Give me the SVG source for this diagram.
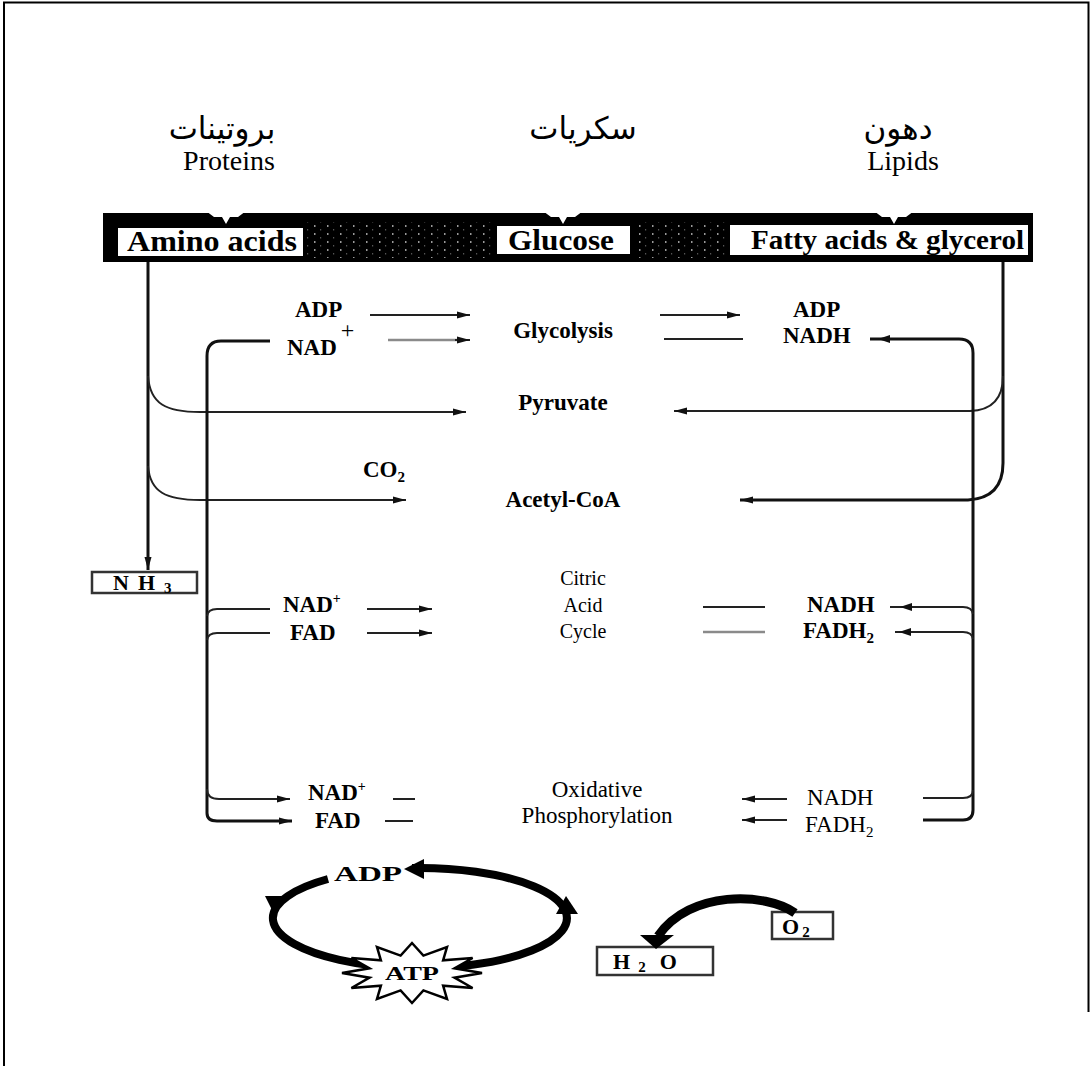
<svg xmlns="http://www.w3.org/2000/svg" width="1091" height="1066" viewBox="0 0 1091 1066">
<defs>
<style>
.b{font-family:"Liberation Serif","Times New Roman",serif;font-weight:bold;fill:#000}
.r{font-family:"Liberation Serif","Times New Roman",serif;font-weight:normal;fill:#000}
.ar{font-family:"DejaVu Sans",sans-serif;font-weight:normal;fill:#000}
.ln{fill:none;stroke:#222;stroke-width:2}
.vt{fill:none;stroke:#111;stroke-width:3}
.gr{fill:none;stroke:#8a8a8a;stroke-width:2.5}
.box{fill:#fff;stroke:#333;stroke-width:2.5}
.lbl{fill:#fff}
</style>
<marker id="ah" markerUnits="userSpaceOnUse" markerWidth="14" markerHeight="10" refX="13" refY="5" orient="auto">
<path d="M0,1.5 L13,5 L0,8.5 z" fill="#111"/>
</marker>
<path id="ahL" d="M0,0 L12,-4 L12,4 z" fill="#111"/>
<path id="ahR" d="M0,0 L-12,-4 L-12,4 z" fill="#111"/>
<pattern id="speck" width="13" height="8" patternUnits="userSpaceOnUse">
<rect width="13" height="8" fill="#000"/>
<rect x="2" y="1" width="1.5" height="2" fill="#999"/>
<rect x="8" y="5" width="1.2" height="1.5" fill="#555"/>
</pattern>
</defs>

<rect width="1091" height="1066" fill="#fff"/>
<path d="M4,1066 V2.5 H1088.5 V1012" fill="none" stroke="#000" stroke-width="2"/>

<g id="title-proteins">
<text class="ar" x="222" y="139" font-size="31" text-anchor="middle">بروتينات</text>
<text class="r" x="229" y="170" font-size="28" text-anchor="middle">Proteins</text>
</g>
<g id="title-sugars">
<text class="ar" x="583" y="139" font-size="31" text-anchor="middle">سكريات</text>
</g>
<g id="title-lipids">
<text class="ar" x="898" y="139" font-size="31" text-anchor="middle">دهون</text>
<text class="r" x="903" y="170" font-size="28" text-anchor="middle">Lipids</text>
</g>

<g id="band">
<rect x="103" y="213" width="930" height="49" fill="#000"/>
<rect x="306" y="222" width="186" height="36" fill="url(#speck)"/>
<rect x="634" y="222" width="92" height="36" fill="url(#speck)"/>
<polygon points="206,211 246,211 238,217 230,217 226,224 222,217 214,217" fill="#fff"/>
<polygon points="543,211 583,211 575,217 567,217 563,224 559,217 551,217" fill="#fff"/>
<polygon points="874,211 914,211 906,217 898,217 894,224 890,217 882,217" fill="#fff"/>
</g>
<g id="amino-acids">
<rect class="lbl" x="118" y="228" width="185" height="28"/>
<text class="b" x="127" y="251" font-size="30" textLength="170" lengthAdjust="spacingAndGlyphs">Amino acids</text>
</g>
<g id="glucose">
<rect class="lbl" x="497" y="226" width="133" height="28"/>
<text class="b" x="508" y="250" font-size="30" textLength="106" lengthAdjust="spacingAndGlyphs">Glucose</text>
</g>
<g id="fatty-acids">
<rect class="lbl" x="730" y="225" width="298" height="30"/>
<text class="b" x="751" y="249" font-size="27" textLength="273" lengthAdjust="spacingAndGlyphs">Fatty acids &amp; glycerol</text>
</g>

<g id="connectors">
<path class="vt" d="M148,262 V570" marker-end="url(#ah)"/>
<path class="ln" d="M148,376 C150,404 166,412 200,412 H466" marker-end="url(#ah)"/>
<path class="ln" d="M148,466 C150,492 166,500 200,500 H406" marker-end="url(#ah)"/>
<path class="vt" d="M270,341 H221 Q207,341 207,356 V813 Q207,821 217,821 H292" marker-end="url(#ah)"/>
<path class="ln" d="M207,616 Q208,609 217,609 H270"/>
<path class="ln" d="M207,640 Q208,633 217,633 H270"/>
<path class="ln" d="M207,789 Q207,799 219,799 H290" marker-end="url(#ah)"/>
<path class="vt" d="M1003,262 V463 Q1003,498 968,500 H740" marker-end="url(#ah)"/>
<path class="ln" d="M1003,376 Q1003,410 970,411 H674" marker-end="url(#ah)"/>
<path class="vt" d="M870,339 H959 Q973,339 973,353 V810 Q973,820 963,820 H923"/>
<use href="#ahL" x="878" y="339"/>
<path class="ln" d="M973,614 Q972,607 963,607 H890"/>
<use href="#ahL" x="900" y="607"/>
<path class="ln" d="M973,639 Q972,632 963,632 H895"/>
<use href="#ahL" x="899" y="632"/>
<path class="ln" d="M973,790 Q973,798 963,798 H923"/>
<path class="ln" d="M370,315 H470" marker-end="url(#ah)"/>
<path class="gr" d="M388,340 H458"/>
<path class="ln" d="M455,340 H470" marker-end="url(#ah)"/>
<path class="ln" d="M660,315 H740" marker-end="url(#ah)"/>
<path class="ln" d="M664,339 H743"/>
<path class="ln" d="M367,609 H432" marker-end="url(#ah)"/>
<path class="ln" d="M367,633 H432" marker-end="url(#ah)"/>
<path class="ln" d="M703,607 H765"/>
<path class="gr" d="M703,632 H765"/>
<path class="ln" d="M393,799 H415"/>
<path class="ln" d="M385,821 H413"/>
<path class="ln" d="M787,799 H742" marker-end="url(#ah)"/>
<path class="ln" d="M787,820 H742" marker-end="url(#ah)"/>
</g>

<g id="nh3">
<rect class="box" x="92" y="572" width="105" height="21"/>
<text class="b" x="113" y="590" font-size="22" letter-spacing="9">NH<tspan font-size="15" dy="3">3</tspan></text>
</g>

<g id="glycolysis">
<text class="b" x="295" y="317" font-size="23">ADP</text>
<text class="b" x="287" y="355" font-size="23">NAD<tspan class="r" font-size="24" dx="4" dy="-17">+</tspan></text>
<text class="b" x="563" y="338" font-size="23" text-anchor="middle">Glycolysis</text>
<text class="b" x="793" y="317" font-size="23">ADP</text>
<text class="b" x="783" y="343" font-size="23">NADH</text>
</g>
<g id="pyruvate">
<text class="b" x="563" y="410" font-size="23" text-anchor="middle">Pyruvate</text>
</g>
<g id="acetyl-coa">
<text class="b" x="363" y="477" font-size="23">CO<tspan font-size="15" dy="5">2</tspan></text>
<text class="b" x="563" y="507" font-size="23" text-anchor="middle">Acetyl-CoA</text>
</g>
<g id="citric-acid-cycle">
<text class="b" x="283" y="612" font-size="23">NAD<tspan font-size="14" dy="-9">+</tspan></text>
<text class="b" x="290" y="640" font-size="23">FAD</text>
<text class="r" x="583" y="585" font-size="20" text-anchor="middle">Citric</text>
<text class="r" x="583" y="612" font-size="20" text-anchor="middle">Acid</text>
<text class="r" x="583" y="638" font-size="20" text-anchor="middle">Cycle</text>
<text class="b" x="807" y="612" font-size="23">NADH</text>
<text class="b" x="803" y="638" font-size="23">FADH<tspan font-size="15" dy="5">2</tspan></text>
</g>
<g id="oxidative-phosphorylation">
<text class="b" x="308" y="800" font-size="23">NAD<tspan font-size="14" dy="-9">+</tspan></text>
<text class="b" x="315" y="828" font-size="23">FAD</text>
<text class="r" x="597" y="797" font-size="23" text-anchor="middle">Oxidative</text>
<text class="r" x="597" y="823" font-size="23" text-anchor="middle">Phosphorylation</text>
<text class="r" x="807" y="805" font-size="23">NADH</text>
<text class="r" x="805" y="832" font-size="23">FADH<tspan font-size="15" dy="5">2</tspan></text>
</g>

<g id="atp-cycle">
<path d="M412,868.1 A147,50 0 1 1 328,879" fill="none" stroke="#000" stroke-width="8"/>
<polygon points="404,869 424,859 424,879" fill="#000"/>
<polygon points="265,896 287,896 274,914" fill="#000"/>
<polygon points="556,914 578,914 566,896" fill="#000"/>
<text class="b" x="334" y="881" font-size="22" textLength="68" lengthAdjust="spacingAndGlyphs">ADP</text>
<polygon points="482,973 454.5,977.7 472.6,988 443.1,985.7 447,999 423.4,990.4 412,1003 400.6,990.4 377,999 380.9,985.7 351.4,988 369.5,977.7 342,973 369.5,968.3 351.4,958 380.9,960.3 377,947 400.6,955.6 412,943 423.4,955.6 447,947 443.1,960.3 472.6,958 454.5,968.3" fill="#fff" stroke="#000" stroke-width="2.5"/>
<text class="b" x="412" y="980" font-size="18" text-anchor="middle" textLength="54" lengthAdjust="spacingAndGlyphs">ATP</text>
</g>

<g id="o2">
<rect class="box" x="772" y="912" width="61" height="27"/>
<text class="b" x="782" y="934" font-size="22" letter-spacing="3">O<tspan font-size="15" dy="3">2</tspan></text>
</g>
<g id="h2o">
<rect class="box" x="597" y="947" width="116" height="28"/>
<text class="b" x="613" y="969" font-size="22" letter-spacing="8">H<tspan font-size="15" dy="3">2</tspan><tspan dx="6" dy="-3">O</tspan></text>
</g>
<g id="o2-to-h2o">
<path d="M795,913 C765,892 690,890 658,936" fill="none" stroke="#000" stroke-width="9"/>
<polygon points="640,935 674,935 656,949" fill="#000"/>
</g>
</svg>
